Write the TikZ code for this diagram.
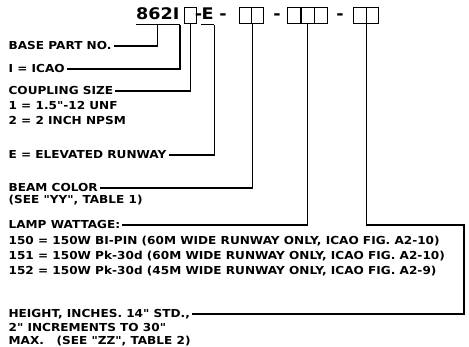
\documentclass[tikz,border=0pt]{standalone}
\usepackage{fontspec}
\newfontfamily\partfont{DejaVu Sans}[FakeStretch=1.1]

\begin{document}
\begin{tikzpicture}[
  x=1pt, y=-1pt, line width=1.2pt,  note/.style={anchor=base west,inner xsep=1.5pt,inner ysep=0pt,text height=8pt,text depth=0pt,font=\partfont\bfseries\fontsize{11}{13}\selectfont},  partno/.style={anchor=base west,inner sep=0pt,text depth=4pt,font=\partfont\bfseries\fontsize{16}{19}\selectfont},  slot/.style={draw,anchor=south west,inner sep=0pt,minimum width=12pt,minimum height=16pt}
]
  \useasboundingbox (0,0) rectangle (469,347);
  % part number row
  \node[partno,anchor=base east] (pn) at (180,20) {862I};
  \node[slot,minimum width=11.5pt] (c0) at (184,24) {};
  \node[partno,anchor=base] (d1) at (198.5,20) {-};
  \node[partno] (pe) at (201,20) {E};
  \node[partno,anchor=base] (d2) at (223,20) {-};
  \node[slot] (c1a) at (239,24) {};
  \node[slot] (c1b) at (251,24) {};
  \node[partno,anchor=base] (d3) at (277,20) {-};
  \node[slot,minimum width=13.3pt] (c2a) at (287,24) {};
  \node[slot,minimum width=13.3pt] (c2b) at (300.3,24) {};
  \node[slot,minimum width=13.3pt] (c2c) at (313.6,24) {};
  \node[partno,anchor=base] (d4) at (340,20) {-};
  \node[slot,minimum width=12.5pt] (c3a) at (353,24) {};
  \node[slot,minimum width=12.5pt] (c3b) at (365.5,24) {};
  \draw (pn.south west) -- (pn.south east);
  \draw (pe.south west) -- (pe.south east);
  % legend
  \node[note] (lbase) at (6.5,50) {BASE PART NO.};
  \node[note] (licao) at (6.5,73) {I = ICAO};
  \node[note] (lcoup) at (6.5,95) {COUPLING SIZE};
  \node[note] (lcoup1) at (6.5,110) {1 = 1.5"-12 UNF};
  \node[note] (lcoup2) at (6.5,125) {2 = 2 INCH NPSM};
  \node[note] (lelev) at (6.5,159) {E = ELEVATED RUNWAY};
  \node[note] (lbeam) at (6.5,192) {BEAM COLOR};
  \node[note] (lbeam1) at (6.5,204) {(SEE "YY", TABLE 1)};
  \node[note] (llamp) at (6.5,229) {LAMP WATTAGE:};
  \node[note] (llamp1) at (6.5,245) {150 = 150W BI-PIN (60M WIDE RUNWAY ONLY, ICAO FIG. A2-10)};
  \node[note] (llamp2) at (6.5,260) {151 = 150W Pk-30d (60M WIDE RUNWAY ONLY, ICAO FIG. A2-10)};
  \node[note] (llamp3) at (6.5,275) {152 = 150W Pk-30d (45M WIDE RUNWAY ONLY, ICAO FIG. A2-9)};
  \node[note] (lheight) at (6.5,318) {HEIGHT, INCHES. 14" STD.,};
  \node[note] (lheight1) at (6.5,332) {2" INCREMENTS TO 30"};
  \node[note] (lheight2) at (6.5,345) {MAX.\ \ \ (SEE "ZZ", TABLE 2)};
  \coordinate (bend) at (464,225);
  % leaders
  \draw (lbase.east) -| (pn.south);
  \draw (licao.east) -| (pn.south east);
  \draw (lcoup.east) -| (c0.south);
  \draw (lelev.east) -| (pe.south east);
  \draw (lbeam.east) -| (c1a.south east);
  \draw (llamp.east) -| (c2b.south);
  \draw (c3a.south east) |- (bend) |- (lheight.east);
\end{tikzpicture}
\end{document}
